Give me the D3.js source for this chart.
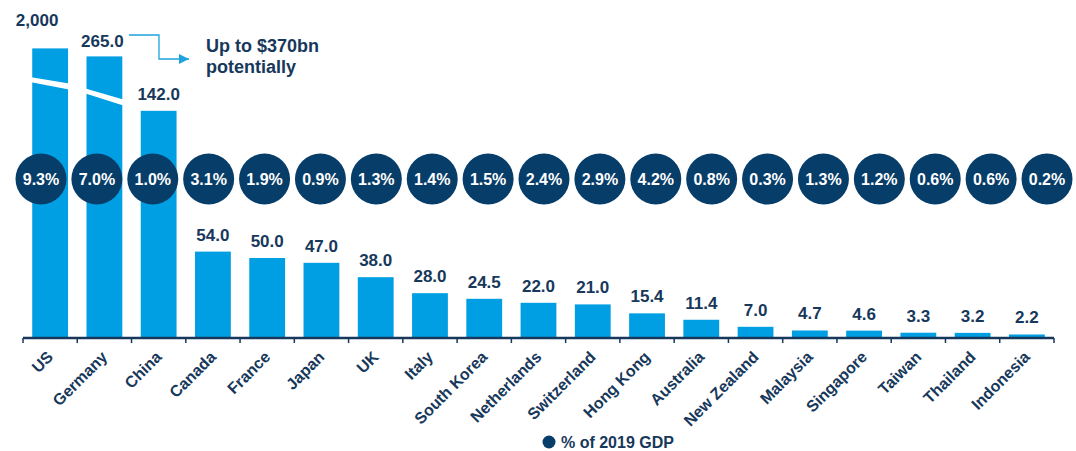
<!DOCTYPE html>
<html>
<head>
<meta charset="utf-8">
<script src="https://cdn.jsdelivr.net/npm/d3@7"></script>
<style>
  body { margin: 0; background: #fff; }
  text { font-family: "Liberation Sans", Arial, sans-serif; font-weight: bold; }
</style>
</head>
<body>
<div class="chart"></div>
<script>
// Data
let countries = ["US", "Germany", "China", "Canada", "France", "Japan", "UK", "Italy",
  "South Korea", "Netherlands", "Switzerland", "Hong Kong", "Australia", "New Zealand",
  "Malaysia", "Singapore", "Taiwan", "Thailand", "Indonesia"];
let values = [2000, 265, 142, 54, 50, 47, 38, 28, 24.5, 22, 21, 15.4, 11.4, 7.0, 4.7, 4.6, 3.3, 3.2, 2.2];
let valueLabels = ["2,000", "265.0", "142.0", "54.0", "50.0", "47.0", "38.0", "28.0", "24.5",
  "22.0", "21.0", "15.4", "11.4", "7.0", "4.7", "4.6", "3.3", "3.2", "2.2"];
let gdpShare = ["9.3%", "7.0%", "1.0%", "3.1%", "1.9%", "0.9%", "1.3%", "1.4%", "1.5%", "2.4%",
  "2.9%", "4.2%", "0.8%", "0.3%", "1.3%", "1.2%", "0.6%", "0.6%", "0.2%"];

let svgWidth = 1076;
let svgHeight = 451;

let lightBlue = "#009fe3";
let navy = "#073d69";
let textNavy = "#17385b";

// broken-axis bars are drawn up to these display values
let brokenCap = { "US": 181, "Germany": 176 };
// slash through broken bars: [left, right] drop in value units below the cap
let brokenSlash = { "US": [18, 22], "Germany": [20, 27] };

let data = countries.map((c, i) => ({
  country: c, value: values[i], label: valueLabels[i], share: gdpShare[i]
}));

let svg = d3.select(".chart")
  .append("svg")
  .attr("width", svgWidth)
  .attr("height", svgHeight);

let x = d3.scaleBand()
  .domain(countries)
  .range([23, 1054])
  .paddingInner(0.34)
  .paddingOuter(0.17);

let y = d3.scaleLinear()
  .domain([0, 200])
  .range([338, 18]);

let circleX = d3.scalePoint()
  .domain(countries)
  .range([41, 1047]);

let shown = d => brokenCap[d.country] !== undefined ? brokenCap[d.country] : d.value;

// bars
svg.selectAll(".bar")
  .data(data)
  .enter()
  .append("rect")
  .attr("class", "bar")
  .attr("x", d => x(d.country))
  .attr("y", d => y(shown(d)))
  .attr("width", x.bandwidth())
  .attr("height", d => y(0) - y(shown(d)))
  .attr("fill", lightBlue);

// white slashes on broken bars
svg.selectAll(".slash")
  .data(data.filter(d => brokenCap[d.country] !== undefined))
  .enter()
  .append("polygon")
  .attr("class", "slash")
  .attr("fill", "#fff")
  .attr("points", d => {
    let top = brokenCap[d.country];
    let s = brokenSlash[d.country];
    let x0 = x(d.country) - 1, x1 = x(d.country) + x.bandwidth() + 1;
    return [[x0, y(top - s[0])], [x1, y(top - s[1])], [x1, y(top - s[1]) + 6], [x0, y(top - s[0]) + 5]]
      .map(p => p.join(",")).join(" ");
  });

// value labels (the two broken bars have their labels nudged like the original)
let labelShift = { "US": [-13, 22], "Germany": [-2, 9] };
svg.selectAll(".vlabel")
  .data(data)
  .enter()
  .append("text")
  .attr("class", "vlabel")
  .attr("x", d => x(d.country) + x.bandwidth() / 2 + (labelShift[d.country] ? labelShift[d.country][0] : 0))
  .attr("y", d => y(shown(d)) - (labelShift[d.country] ? labelShift[d.country][1] : 11))
  .attr("text-anchor", "middle")
  .attr("font-size", "17px")
  .attr("fill", textNavy)
  .text(d => d.label);

// axis
let xAxis = svg.append("g")
  .attr("transform", `translate(0, ${y(0)})`)
  .call(d3.axisBottom(x).tickSize(0).tickFormat(""));
xAxis.select(".domain").attr("stroke", textNavy).attr("stroke-width", 2.5)
  .attr("d", `M${x.range()[0]},0H${x.range()[1]}`);

// ticks sit on the band boundaries
let boundaries = d3.range(countries.length + 1)
  .map(i => x.range()[0] + i * (x.range()[1] - x.range()[0]) / countries.length);
xAxis.selectAll(".btick")
  .data(boundaries)
  .enter()
  .append("line")
  .attr("class", "btick")
  .attr("x1", d => d).attr("x2", d => d)
  .attr("y1", 0).attr("y2", 5)
  .attr("stroke", textNavy)
  .attr("stroke-width", 1.5);

// rotated category labels
svg.selectAll(".clabel")
  .data(data)
  .enter()
  .append("text")
  .attr("class", "clabel")
  .attr("transform", d => `translate(${x(d.country) + x.bandwidth() / 2 + 4}, 358) rotate(-45)`)
  .attr("text-anchor", "end")
  .attr("font-size", "16px")
  .attr("fill", textNavy)
  .text(d => d.country);

// GDP share circles
let bubbles = svg.selectAll(".bubble")
  .data(data)
  .enter()
  .append("g")
  .attr("class", "bubble")
  .attr("transform", d => `translate(${circleX(d.country)}, 179)`);

bubbles.append("circle")
  .attr("r", 25.5)
  .attr("fill", navy);

bubbles.append("text")
  .attr("text-anchor", "middle")
  .attr("dy", "0.36em")
  .attr("font-size", "16px")
  .attr("fill", "#fff")
  .text(d => d.share);

// annotation arrow
svg.append("defs").append("marker")
  .attr("id", "arrow")
  .attr("viewBox", "0 0 10 10")
  .attr("refX", 10).attr("refY", 5)
  .attr("markerWidth", 10).attr("markerHeight", 10)
  .attr("markerUnits", "userSpaceOnUse")
  .attr("orient", "auto")
  .append("path")
  .attr("d", "M0,0L10,5L0,10Z")
  .attr("fill", "#1ea3de");

svg.append("path")
  .attr("d", "M129,35H159V59H189")
  .attr("fill", "none")
  .attr("stroke", "#1ea3de")
  .attr("stroke-width", 1.3)
  .attr("marker-end", "url(#arrow)");

let note = svg.append("text")
  .attr("x", 206)
  .attr("y", 52)
  .attr("font-size", "18px")
  .attr("fill", textNavy);
note.append("tspan").attr("x", 206).text("Up to $370bn");
note.append("tspan").attr("x", 206).attr("dy", 21).text("potentially");

// legend
svg.append("circle")
  .attr("cx", 549)
  .attr("cy", 442)
  .attr("r", 6.5)
  .attr("fill", navy);
svg.append("text")
  .attr("x", 561)
  .attr("y", 448)
  .attr("font-size", "16px")
  .attr("fill", textNavy)
  .text("% of 2019 GDP");
</script>
</body>
</html>
